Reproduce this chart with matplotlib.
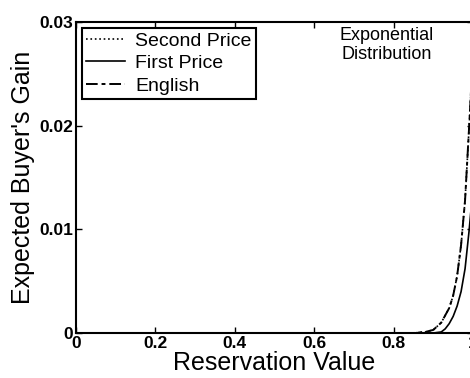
import matplotlib
matplotlib.use("Agg")
import matplotlib.pyplot as plt

plt.rcParams['font.family'] = ['Liberation Sans', 'DejaVu Sans']

# Data
x_english = [0, 0.2, 0.4, 0.6, 0.8, 0.85, 0.88, 0.9, 0.92, 0.94, 0.95, 0.96, 0.97, 0.98, 0.99, 1.0]
y_english = [0, 0, 0, 0, 0, 0, 0.0001, 0.0003, 0.001, 0.0024, 0.0036, 0.0055, 0.0085, 0.0128, 0.0197, 0.027]
x_second = x_english
y_second = y_english
x_first = [0, 0.2, 0.4, 0.6, 0.8, 0.85, 0.9, 0.92, 0.93, 0.94, 0.95, 0.96, 0.97, 0.98, 0.99, 1.0]
y_first = [0, 0, 0, 0, 0, 0, 0, 0.0001, 0.0004, 0.0009, 0.0016, 0.0026, 0.004, 0.0062, 0.0098, 0.014]

xticks = [0, 0.2, 0.4, 0.6, 0.8, 1.0]
xticklabels = ['0', '0.2', '0.4', '0.6', '0.8', '1']
yticks = [0, 0.01, 0.02, 0.03]
yticklabels = ['0', '0.01', '0.02', '0.03']

W, H = 470, 378
fig = plt.figure(figsize=(W / 100, H / 100), dpi=100)
left, right, top, bottom = 76, 473, 22, 333
ax = fig.add_axes([left / W, (H - bottom) / H, (right - left) / W, (bottom - top) / H])

ax.plot(x_second, y_second, color='black', linestyle=':', linewidth=1.2, label='Second Price')
ax.plot(x_first, y_first, color='black', linestyle='-', linewidth=1.2, label='First Price')
ax.plot(x_english, y_english, color='black', linestyle=(0, (6, 2, 2, 2)), linewidth=1.4, label='English')

ax.set_xlim(0, 1)
ax.set_ylim(0, 0.03)
ax.set_xticks(xticks)
ax.set_xticklabels(xticklabels)
ax.set_yticks(yticks)
ax.set_yticklabels(yticklabels)
ax.tick_params(direction='in', length=4, width=1, top=True, right=True,
               labelsize=12.5, pad=2)
for lbl in ax.get_xticklabels() + ax.get_yticklabels():
    lbl.set_fontweight('bold')
for s in ax.spines.values():
    s.set_linewidth(1.5)

ax.set_xlabel('Reservation Value', fontsize=18, labelpad=0)
ax.set_ylabel("Expected Buyer's Gain", fontsize=18, labelpad=3)

leg = ax.legend(loc='upper left', bbox_to_anchor=(0.015, 0.98), fontsize=14,
                frameon=True, fancybox=False, edgecolor='black', framealpha=1,
                handlelength=2.0, handletextpad=0.55, borderpad=0.2, labelspacing=0.25,
                borderaxespad=0)
leg.get_frame().set_linewidth(1.5)

ax.text(0.783, 0.985, 'Exponential\nDistribution', transform=ax.transAxes,
        ha='center', va='top', fontsize=13, linespacing=1.2)

fig.savefig('out.png', dpi=100)
